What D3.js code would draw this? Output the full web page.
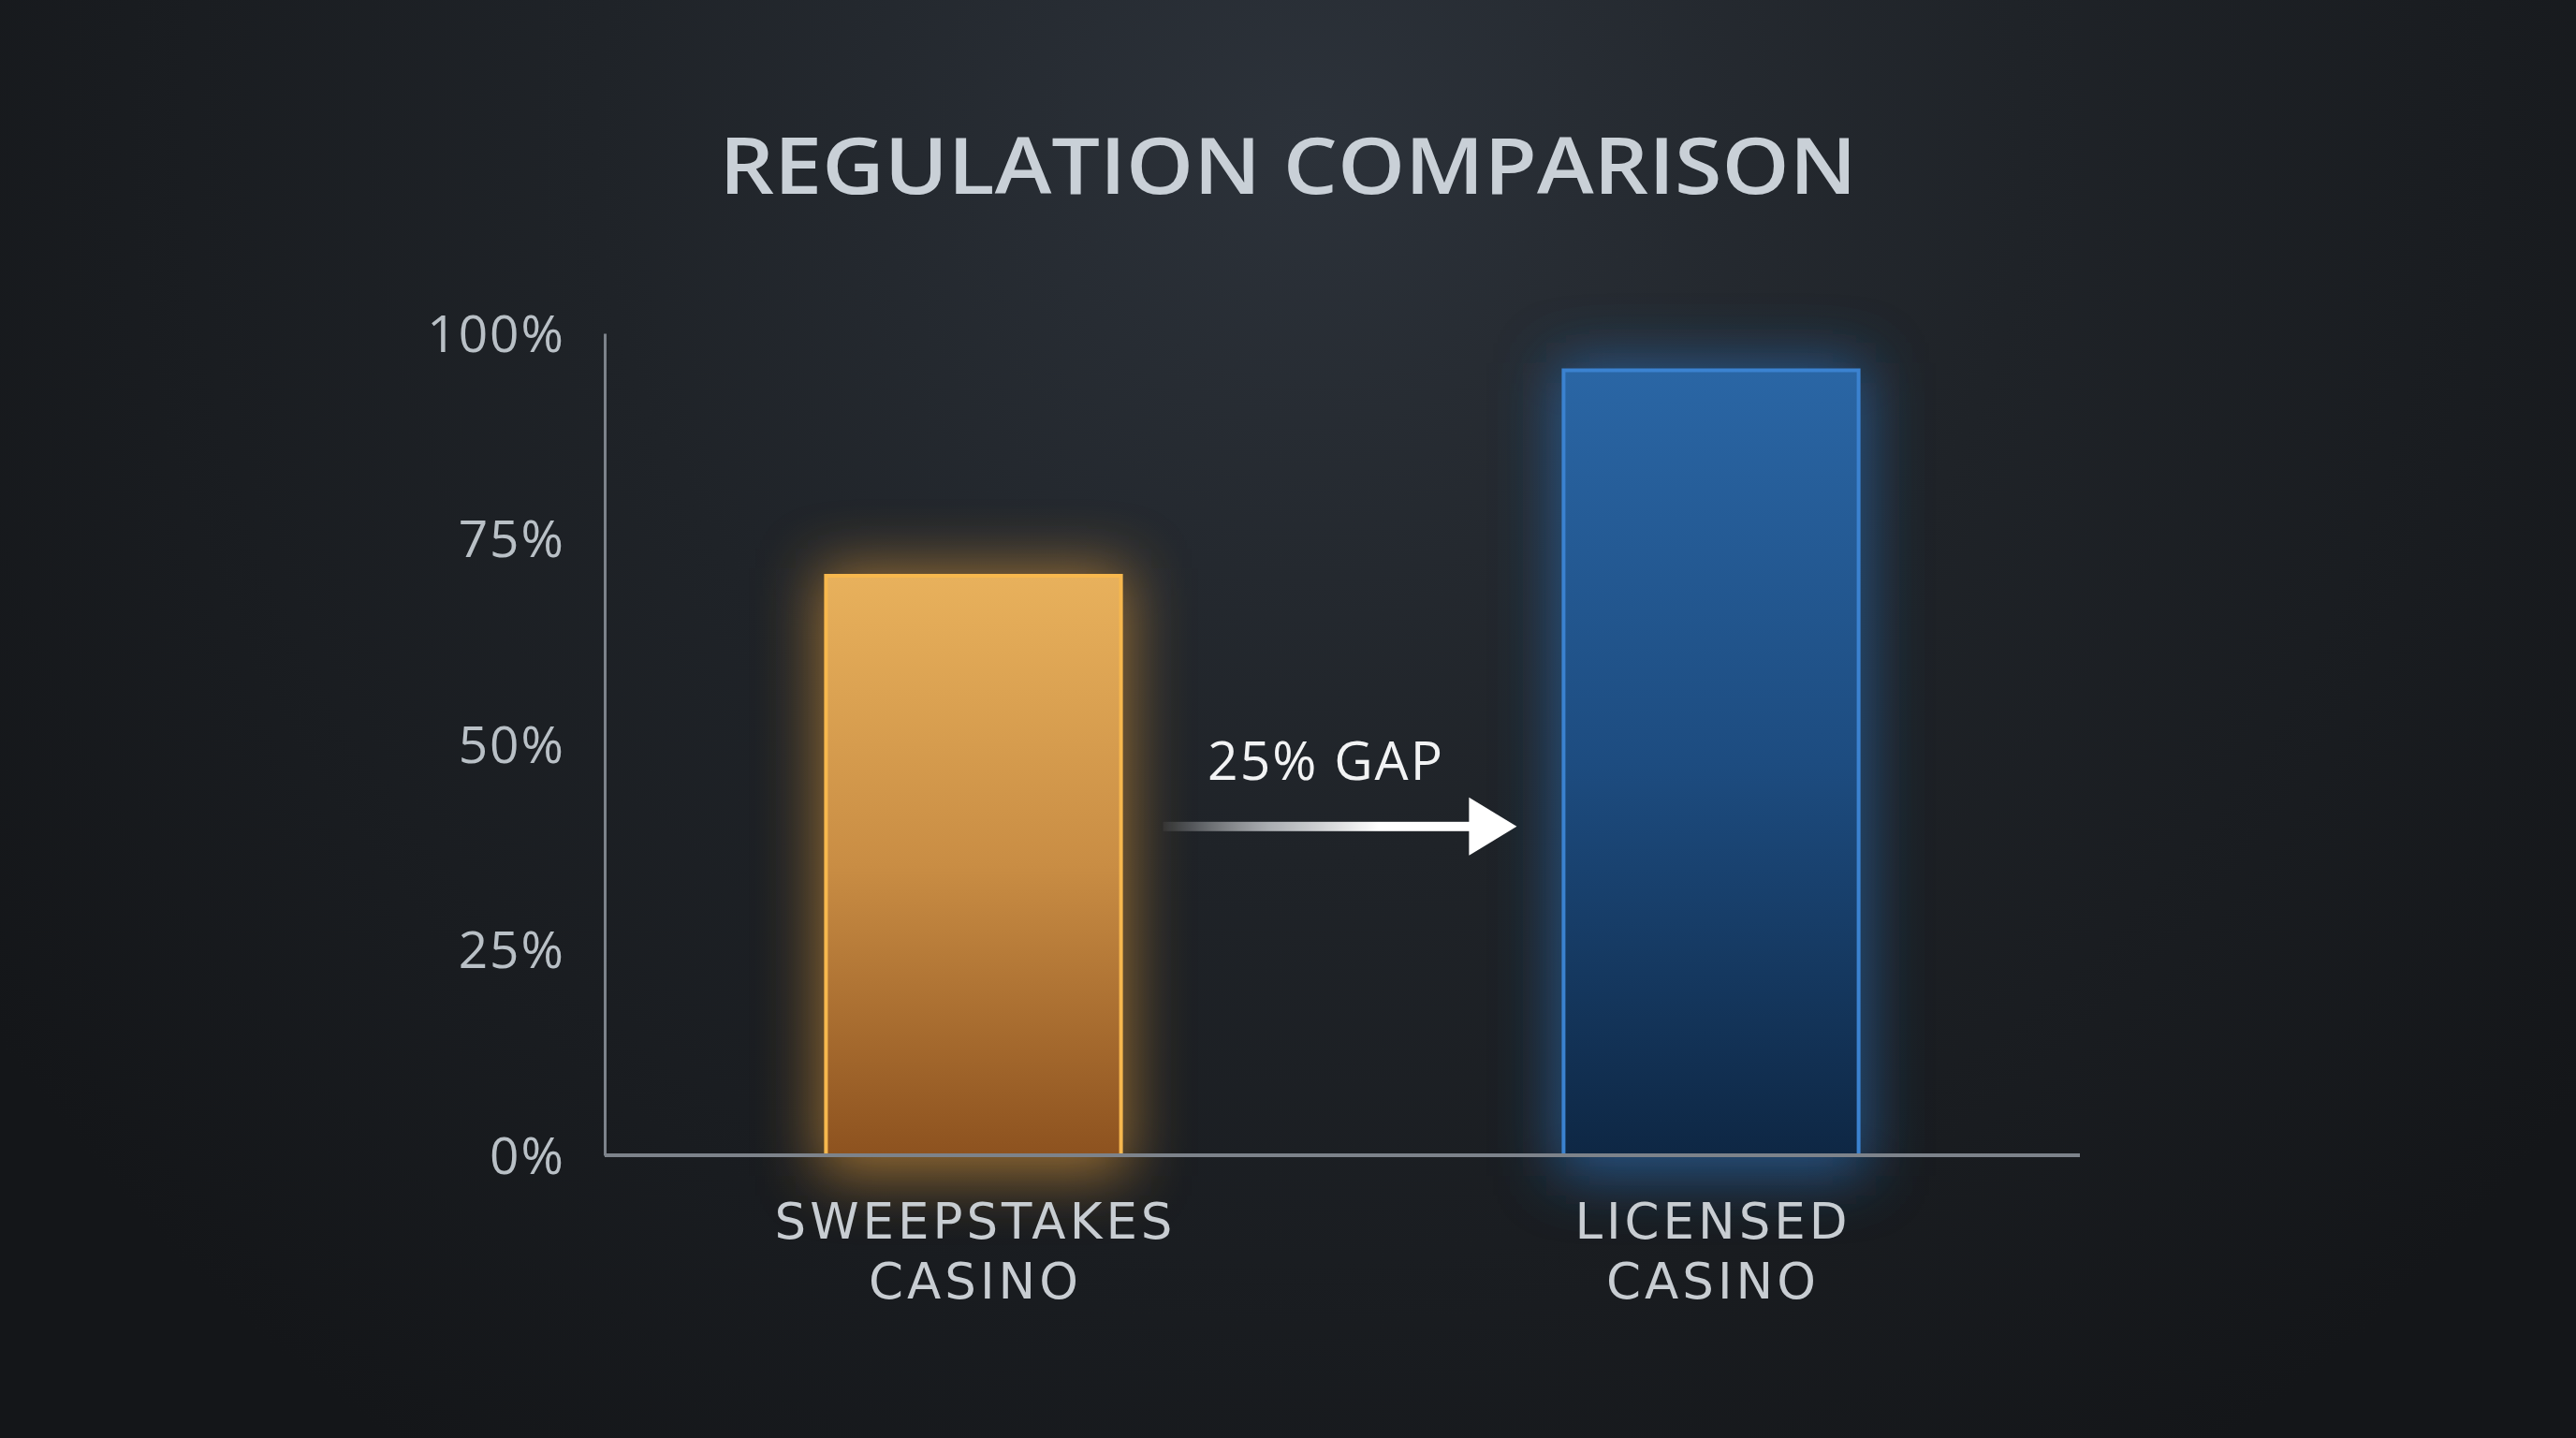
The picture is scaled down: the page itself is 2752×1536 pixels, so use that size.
<!DOCTYPE html>
<html>
<head>
<meta charset="utf-8">
<script src="https://cdn.jsdelivr.net/npm/d3@7"></script>
<style>
  html, body { margin: 0; padding: 0; background: #17191c; }
  svg { display: block; }
</style>
</head>
<body>
<script>
// ---- data ----
const title = "REGULATION COMPARISON";
const categories = [["SWEEPSTAKES", "CASINO"], ["LICENSED", "CASINO"]];
const categoryKeys = ["sweepstakes", "licensed"];
const values = [70.5, 95.5];
const tickValues = [0, 25, 50, 75, 100];
const gapLevel = 40; // arrow height in axis units

const W = 2752, H = 1536;
const FONT = "'Open Sans', 'Noto Sans', sans-serif";
const LABEL_FONT = "'DejaVu Sans', 'Open Sans', sans-serif";

const svg = d3.select("body").append("svg")
  .attr("width", W).attr("height", H).attr("viewBox", `0 0 ${W} ${H}`);

const defs = svg.append("defs");

// background
const bg = defs.append("radialGradient").attr("id", "bg")
  .attr("gradientUnits", "userSpaceOnUse")
  .attr("cx", 1400).attr("cy", 150).attr("r", 1700);
bg.append("stop").attr("offset", 0).attr("stop-color", "#2c323a");
bg.append("stop").attr("offset", 0.45).attr("stop-color", "#1f2328");
bg.append("stop").attr("offset", 1).attr("stop-color", "#141619");
svg.append("rect").attr("width", W).attr("height", H).attr("fill", "url(#bg)");

// gradients for bars
const barStyles = {
  sweepstakes: { top: "#e8b15c", mid: "#c98d44", bottom: "#8d521f", stroke: "#f7b84e", glow: "#e9a03a" },
  licensed: { top: "#2a66a5", mid: "#1d4c80", bottom: "#0e2744", stroke: "#3b82d0", glow: "#2f78c8" }
};
categoryKeys.forEach(k => {
  const g = defs.append("linearGradient").attr("id", "grad-" + k)
    .attr("x1", 0).attr("y1", 0).attr("x2", 0).attr("y2", 1);
  g.append("stop").attr("offset", 0).attr("stop-color", barStyles[k].top);
  g.append("stop").attr("offset", 0.5).attr("stop-color", barStyles[k].mid);
  g.append("stop").attr("offset", 1).attr("stop-color", barStyles[k].bottom);
});
const glow = defs.append("filter").attr("id", "glow")
  .attr("x", "-60%").attr("y", "-60%").attr("width", "220%").attr("height", "220%");
glow.append("feGaussianBlur").attr("stdDeviation", 32);

// arrow gradient
const ag = defs.append("linearGradient").attr("id", "arrowGrad")
  .attr("x1", 0).attr("y1", 0).attr("x2", 1).attr("y2", 0);
ag.append("stop").attr("offset", 0).attr("stop-color", "#ffffff").attr("stop-opacity", 0.05);
ag.append("stop").attr("offset", 0.35).attr("stop-color", "#cfd2d6").attr("stop-opacity", 0.8);
ag.append("stop").attr("offset", 0.7).attr("stop-color", "#ffffff").attr("stop-opacity", 1);
ag.append("stop").attr("offset", 1).attr("stop-color", "#ffffff").attr("stop-opacity", 1);

// scales
const x = d3.scaleBand().domain(categoryKeys).range([646, 2222])
  .paddingInner(0.6).paddingOuter(0.3);
const y = d3.scaleLinear().domain([0, 100]).range([1234, 356]);

// title
svg.append("text")
  .attr("x", 1376).attr("y", 207)
  .attr("text-anchor", "middle")
  .attr("font-family", FONT).attr("font-weight", 600)
  .attr("font-size", 84)
  .attr("textLength", 1215).attr("lengthAdjust", "spacingAndGlyphs")
  .attr("fill", "#c9d0d7")
  .text(title);

// glow layer
const gl = svg.append("g").attr("filter", "url(#glow)");
gl.selectAll("rect").data(categoryKeys).join("rect")
  .attr("x", d => x(d) - 8)
  .attr("y", (d, i) => y(values[i]) - 8)
  .attr("width", x.bandwidth() + 16)
  .attr("height", (d, i) => y(0) - y(values[i]) + 30)
  .attr("fill", d => barStyles[d].glow)
  .attr("opacity", 0.6);

// bars
svg.append("g").selectAll("rect").data(categoryKeys).join("rect")
  .attr("x", d => x(d))
  .attr("y", (d, i) => y(values[i]))
  .attr("width", x.bandwidth())
  .attr("height", (d, i) => y(0) - y(values[i]))
  .attr("fill", d => `url(#grad-${d})`)
  .attr("stroke", d => barStyles[d].stroke)
  .attr("stroke-width", 4);

// axes
const yAxis = svg.append("g").attr("transform", `translate(${x.range()[0]},0)`)
  .call(d3.axisLeft(y).tickValues(tickValues).tickFormat(d => d + "%").tickSize(0).tickPadding(42));
yAxis.select(".domain").attr("stroke", "#7d838b").attr("stroke-width", 3);
yAxis.selectAll("text")
  .attr("font-family", FONT).attr("font-size", 55).attr("fill", "#b9c0c6")
  .attr("letter-spacing", 2)
  .attr("dy", "0.35em");

svg.append("line")
  .attr("x1", x.range()[0]).attr("x2", x.range()[1])
  .attr("y1", y(0)).attr("y2", y(0))
  .attr("stroke", "#7d838b").attr("stroke-width", 4);

// category labels
const cl = svg.append("g");
categoryKeys.forEach((k, i) => {
  categories[i].forEach((line, j) => {
    cl.append("text")
      .attr("text-anchor", "middle")
      .attr("font-family", LABEL_FONT).attr("font-size", 53).attr("fill", "#c8cdd2")
      .attr("letter-spacing", 4)
      .attr("x", x(k) + x.bandwidth() / 2 + 2)
      .attr("y", 1323 + j * 64).text(line);
  });
});

// gap arrow
const x0 = x(categoryKeys[0]) + x.bandwidth() + 45;
const x1 = x(categoryKeys[1]) - 50;
const ay = y(gapLevel);
const headLen = 51, headHalf = 31;
svg.append("rect")
  .attr("x", x0).attr("y", ay - 5)
  .attr("width", x1 - headLen - x0 + 2).attr("height", 10)
  .attr("fill", "url(#arrowGrad)");
svg.append("path")
  .attr("d", `M${x1 - headLen},${ay - headHalf} L${x1},${ay} L${x1 - headLen},${ay + headHalf} Z`)
  .attr("fill", "#ffffff");

const gap = Math.round(values[1] - values[0]);
svg.append("text")
  .attr("x", (x0 + x1) / 2 - 15).attr("y", ay - 50)
  .attr("text-anchor", "middle")
  .attr("font-family", FONT).attr("font-size", 57).attr("fill", "#f2f3f4")
  .attr("letter-spacing", 2)
  .text(gap + "% GAP");
</script>
</body>
</html>
